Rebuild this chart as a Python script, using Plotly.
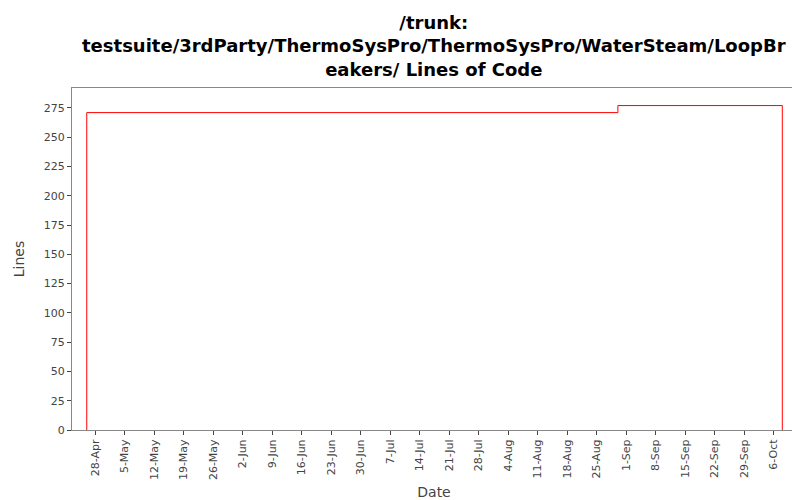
import plotly.graph_objects as go
import pandas as pd

dates = ['2008-04-26', '2008-04-26', '2008-08-30', '2008-10-08', '2008-10-08']
lines = [0, 271, 277, 277, 0]
tick_vals = pd.date_range('2008-04-28', '2008-10-06', freq='7D')
tick_text = [f"{d.day}-{d.strftime('%b')}" for d in tick_vals]

fig = go.Figure(go.Scatter(x=dates, y=lines, mode='lines', line_shape='hv',
                           line=dict(color='red', width=1)))
fig.update_layout(
    width=800, height=500, plot_bgcolor='white', paper_bgcolor='white',
    margin=dict(l=64, r=12, t=80, b=78, autoexpand=False),
    font=dict(family='DejaVu Sans', size=11, color='#444'),
    showlegend=False,
)
fig.add_annotation(text='<b>/trunk:<br>testsuite/3rdParty/ThermoSysPro/ThermoSysPro/WaterSteam/LoopBr<br>eakers/ Lines of Code</b>',
                   xref='paper', yref='paper', x=0.5, y=1, yshift=78, yanchor='top',
                   showarrow=False, font=dict(size=18, color='black'))
fig.update_xaxes(title_text='Date', range=['2008-04-22 12:00', '2008-10-11 06:00'],
                 tickvals=tick_vals, ticktext=tick_text, tickangle=-90,
                 showgrid=False, ticks='outside', ticklen=4, showline=True,
                 linecolor='#888', mirror=True, title_font=dict(size=14), title_standoff=8)
fig.update_yaxes(title_text='Lines', range=[0, 292], dtick=25, showgrid=False,
                 ticks='outside', ticklen=4, showline=True, linecolor='#888',
                 mirror=True, title_font=dict(size=14))
fig.write_html('out.html')
